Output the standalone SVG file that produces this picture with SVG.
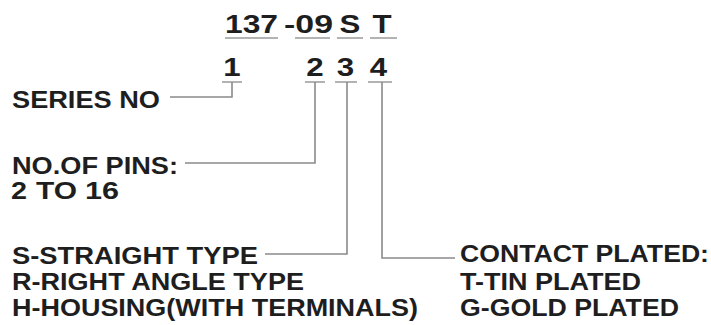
<svg xmlns="http://www.w3.org/2000/svg" width="711" height="325" viewBox="0 0 711 325">
<style>
text{font-family:"Liberation Sans",Arial,sans-serif;font-weight:bold;fill:#1e1e1e;}
.lbl{font-size:23px;}
.code{font-size:25px;}
.ul{stroke:#9a9a9a;stroke-width:1.3;fill:none;}
.conn{stroke:#8a8a8a;stroke-width:1.6;fill:none;}
</style>
<rect width="711" height="325" fill="#ffffff"/>
<g id="part-code">
<text class="code" x="225" y="33" textLength="53" lengthAdjust="spacingAndGlyphs">137</text>
<text class="code" x="284" y="33" textLength="49" lengthAdjust="spacingAndGlyphs">-09</text>
<text class="code" text-anchor="middle" transform="translate(350,33) scale(1.25,1)">S</text>
<text class="code" text-anchor="middle" transform="translate(382,33) scale(1.25,1)">T</text>
<path class="ul" d="M225 38H278M295 38H330M337 38H363M370 38H397"/>
</g>
<g id="index">
<text class="code" text-anchor="middle" transform="translate(232,76) scale(1.25,1)">1</text>
<text class="code" text-anchor="middle" transform="translate(315,76) scale(1.25,1)">2</text>
<text class="code" text-anchor="middle" transform="translate(345.5,76) scale(1.25,1)">3</text>
<text class="code" text-anchor="middle" transform="translate(378.5,76) scale(1.25,1)">4</text>
<path class="ul" d="M222 82H242M305 82H325M335 82H357M368 82H392"/>
</g>
<g id="series">
<text class="lbl" x="12" y="108" textLength="148" lengthAdjust="spacingAndGlyphs">SERIES NO</text>
</g>
<g id="pins">
<text class="lbl" x="12" y="174" textLength="166" lengthAdjust="spacingAndGlyphs">NO.OF PINS:</text>
<text class="lbl" x="11" y="199" textLength="16" lengthAdjust="spacingAndGlyphs">2</text>
<text class="lbl" x="36" y="199" textLength="41" lengthAdjust="spacingAndGlyphs">TO</text>
<text class="lbl" x="85" y="199" textLength="34" lengthAdjust="spacingAndGlyphs">16</text>
</g>
<g id="type">
<text class="lbl" x="12" y="264" textLength="246" lengthAdjust="spacingAndGlyphs">S-STRAIGHT TYPE</text>
<text class="lbl" x="12" y="290" textLength="292" lengthAdjust="spacingAndGlyphs">R-RIGHT ANGLE TYPE</text>
<text class="lbl" x="12" y="316" textLength="406" lengthAdjust="spacingAndGlyphs">H-HOUSING(WITH TERMINALS)</text>
</g>
<g id="plating">
<text class="lbl" x="460" y="262" textLength="249" lengthAdjust="spacingAndGlyphs">CONTACT PLATED:</text>
<text class="lbl" x="460" y="290" textLength="181" lengthAdjust="spacingAndGlyphs">T-TIN PLATED</text>
<text class="lbl" x="460" y="316" textLength="219" lengthAdjust="spacingAndGlyphs">G-GOLD PLATED</text>
</g>
<g id="connectors">
<path class="conn" d="M232 82V97H170"/>
<path class="conn" d="M315 82V163H185"/>
<path class="conn" d="M347 82V254H265"/>
<path class="conn" d="M382 82V258H455"/>
</g>
</svg>
